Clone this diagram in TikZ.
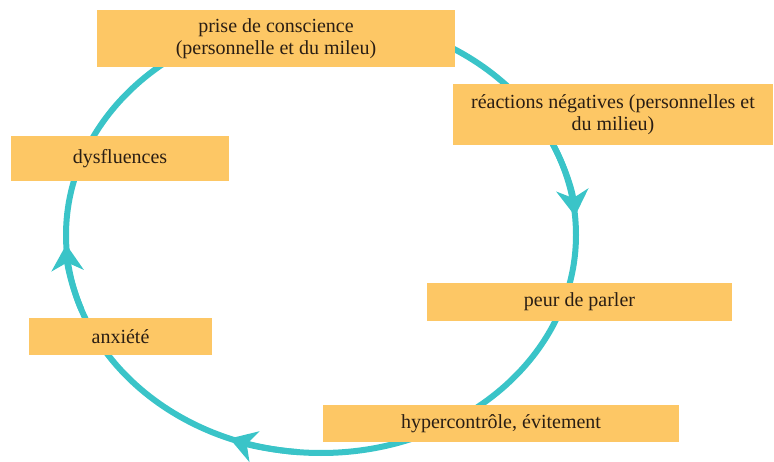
\documentclass[tikz,border=0pt]{standalone}
\usepackage{fontspec}
\newfontfamily\boxfont{LiberationSerif}[Extension=.ttf, UprightFont=*-Regular]
\usetikzlibrary{arrows.meta}
\definecolor{ringc}{HTML}{3AC4C8}
\definecolor{boxc}{HTML}{FDC765}
\definecolor{txtc}{HTML}{2A1E14}
\tikzset{
  stagebox/.style={fill=boxc, draw=none, inner sep=0pt, align=center, text=txtc,
    font=\boxfont\fontsize{20}{22}\selectfont},
  ring/.style={draw=ringc, line width=6pt},
  ringarrow/.style={draw=ringc, line width=6pt, -{Stealth[length=26pt,width=32pt,inset=8pt]}}
}
\begin{document}
\begin{tikzpicture}[x=1pt,y=1pt]
\useasboundingbox (0,0) rectangle (774,461);
\coordinate (c) at (321,226);
\draw[ring] (c) ellipse [x radius=255, y radius=218];
\draw[ringarrow] ([shift={(c)}]25:255 and 218) arc[start angle=25, end angle=5, x radius=255, y radius=218];
\draw[ringarrow] ([shift={(c)}]265:255 and 218) arc[start angle=265, end angle=249, x radius=255, y radius=218];
\draw[ringarrow] ([shift={(c)}]200:255 and 218) arc[start angle=200, end angle=182.5, x radius=255, y radius=218];
\node[stagebox, minimum width=358pt, minimum height=57pt] (prise) at (276,422.5) {prise de conscience\\(personnelle et du mileu)};
\node[stagebox, minimum width=320pt, minimum height=61pt] (reac) at (613,346.5) {réactions négatives (personnelles et\\du milieu)};
\node[stagebox, minimum width=218pt, minimum height=45pt] (dysf) at (120,302.5) {dysfluences};
\node[stagebox, minimum width=183pt, minimum height=37pt] (anx) at (120.5,124.5) {anxiété};
\node[stagebox, minimum width=305pt, minimum height=38pt] (peur) at (579.5,159) {peur de parler};
\node[stagebox, minimum width=356pt, minimum height=37pt] (hyper) at (501,37.5) {hypercontrôle, évitement};
\end{tikzpicture}
\end{document}
